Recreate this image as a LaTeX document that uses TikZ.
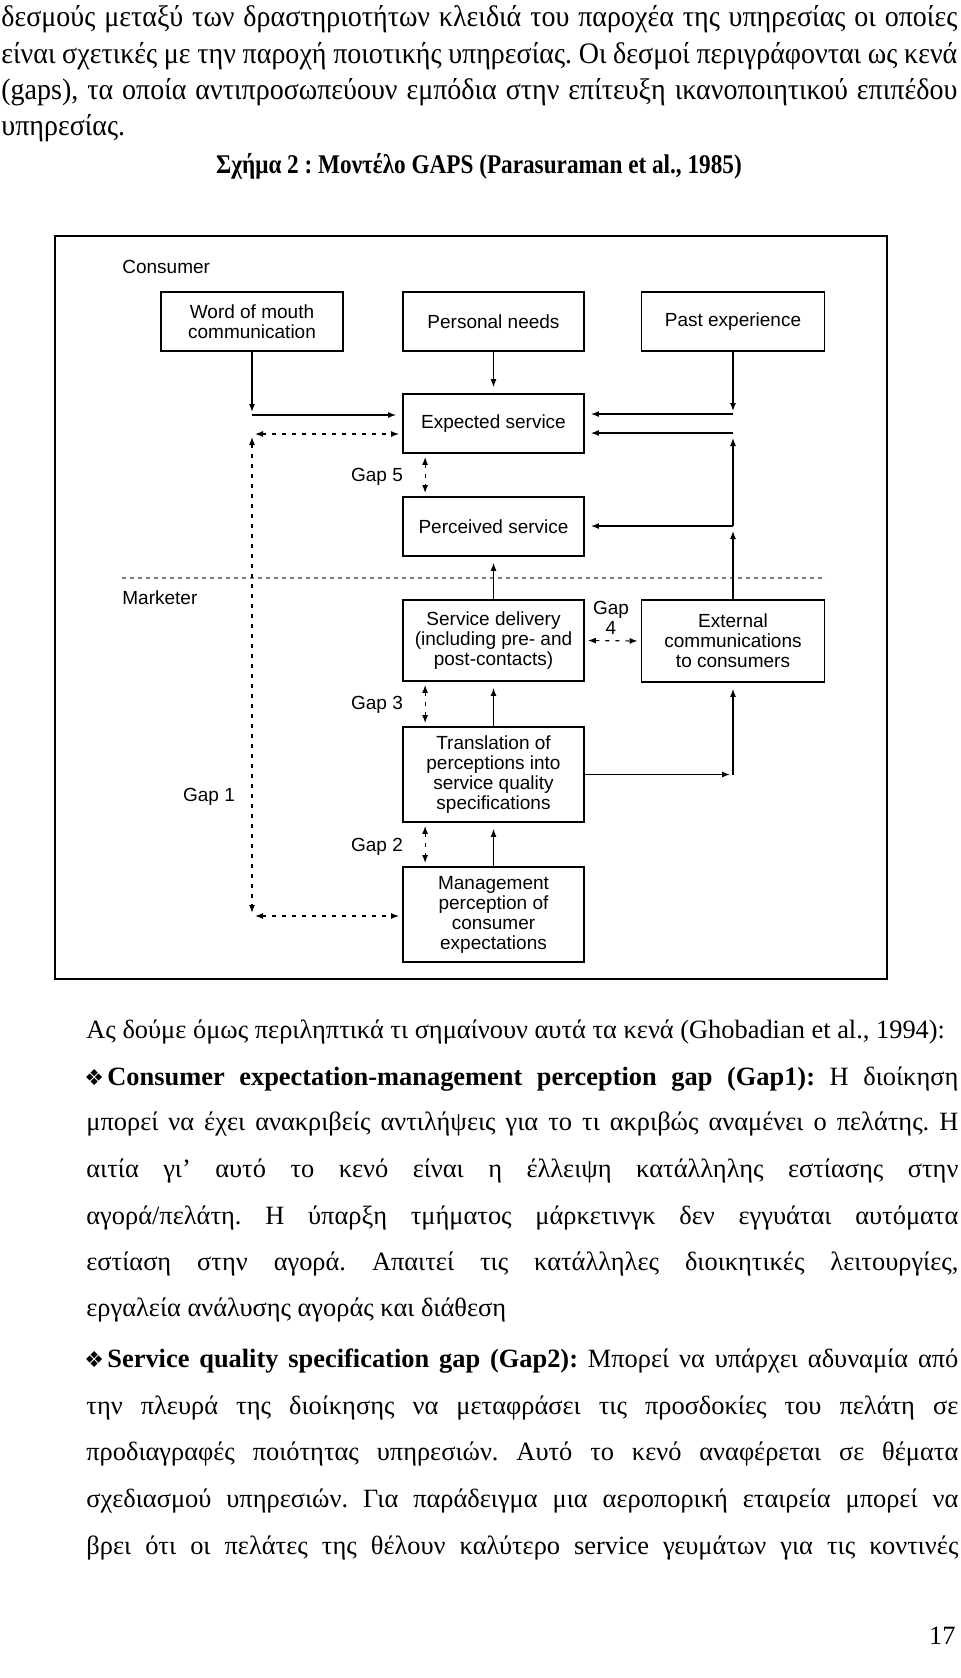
\documentclass[tikz,border=0pt]{standalone}
\usepackage{fontspec}
\setmainfont{Liberation Serif}
\newfontfamily\diagfont{Liberation Sans}
\newfontfamily\bulletfont{DejaVu Sans}
\newfontfamily\capfont[FakeStretch=0.86]{Liberation Serif Bold}
\newfontfamily\topfont[FakeStretch=0.94]{Liberation Serif}
\usetikzlibrary{arrows.meta,positioning}
\newcommand{\jline}[2]{\hbox to #1{#2}}
\frenchspacing

\begin{document}
\begin{tikzpicture}[x=0.5pt,y=-0.5pt,
    txt/.style={anchor=base west,inner sep=0pt,font=\fontsize{13.2}{16}\selectfont},
    toptxt/.style={anchor=base west,inner sep=0pt,font=\topfont\fontsize{14.9}{16}\selectfont},
    captxt/.style={anchor=base,inner sep=0pt,font=\capfont\fontsize{13.5}{16}\selectfont},
    bul/.style={anchor=base west,inner sep=0pt,font=\bulletfont\fontsize{11}{12}\selectfont},
    stage/.style={draw,line width=0.9pt,align=center,inner sep=1pt,minimum width=90.5pt,minimum height=29.5pt,font=\diagfont\fontsize{9.5}{10}\selectfont},
    lbl/.style={inner sep=0pt,align=center,font=\diagfont\fontsize{9.5}{10}\selectfont},
    arr/.style={line width=0.6pt,-{Latex[length=4pt,width=3pt]},shorten >=3pt},
    gaparr/.style={line width=0.6pt,dash pattern=on 2pt off 3pt,{Latex[length=4pt,width=3pt]}-{Latex[length=4pt,width=3pt]},shorten <=1.5pt,shorten >=1.5pt},
    divider/.style={line width=0.7pt,gray,dash pattern=on 2pt off 2pt}
  ]
  \useasboundingbox (0,0) rectangle (960,1678);
  % Text above the figure
  \node[toptxt] (p1) at (1,26) {\jline{478pt}{δεσμούς μεταξύ των δραστηριοτήτων κλειδιά του παροχέα της υπηρεσίας οι οποίες}};
  \node[toptxt] (p2) at (1,63) {\jline{478pt}{είναι σχετικές με την παροχή ποιοτικής υπηρεσίας. Οι δεσμοί περιγράφονται ως κενά}};
  \node[toptxt] (p3) at (1,99) {\jline{478pt}{(gaps), τα οποία αντιπροσωπεύουν εμπόδια στην επίτευξη ικανοποιητικού επιπέδου}};
  \node[toptxt] (p4) at (1,135) {υπηρεσίας.};
  \node[captxt] (cap) at (479,173) {Σχήμα 2 : Μοντέλο GAPS (Parasuraman et al., 1985)};
  % Frame
  \draw[line width=1pt] (55,236) rectangle (887,979);
  \node[lbl,anchor=west] (consumer) at (122,267) {Consumer};
  \node[lbl,anchor=west] (marketer) at (122,598) {Marketer};
  \draw[divider] (122,578) -- (826,578);
  % Consumer boxes
  \node[stage,minimum width=91pt] (wom) at (252,321.5) {Word of mouth\\communication};
  \node[stage] (needs) at (493.5,321.5) {Personal needs};
  \node[stage,minimum width=91.5pt] (past) at (733,321.5) {Past experience};
  \node[stage] (exp) at (493.5,423.5) {Expected service};
  \node[stage] (perc) at (493.5,526.5) {Perceived service};
  % Marketer boxes
  \node[stage,minimum height=40.5pt] (deliv) at (493.5,640.5) {Service delivery\\(including pre- and\\post-contacts)};
  \node[stage,minimum width=91.5pt,minimum height=41pt] (extc) at (733,641) {External\\communications\\to consumers};
  \node[stage,minimum height=47.5pt] (transl) at (493.5,774.5) {Translation of\\perceptions into\\service quality\\specifications};
  \node[stage,minimum height=47.5pt] (mgmt) at (493.5,914.5) {Management\\perception of\\consumer\\expectations};
  % Corners of the connectors
  \coordinate (womc) at (252,415);
  \coordinate (g1top) at (252,434);
  \coordinate (g1bot) at (252,916);
  \coordinate (pastc) at (733,414);
  \coordinate (extup) at (733,433);
  \coordinate (extmid) at (733,526);
  \coordinate (tcorner) at (transl.east -| extc);
  % Solid connectors
  \draw[arr,shorten >=1.5pt] (wom) -- (womc);
  \draw[arr] (womc) -- (womc -| exp.west);
  \draw[arr] (needs) -- (exp);
  \draw[arr,shorten >=1.5pt] (past) -- (pastc);
  \draw[arr] (pastc) -- (pastc -| exp.east);
  \draw[arr,shorten >=2.5pt] (extmid) -- (extup);
  \draw[arr] (extup) -- (extup -| exp.east);
  \draw[arr,shorten >=2.5pt] (extc) -- (extmid);
  \draw[arr] (extmid) -- (extmid -| perc.east);
  \draw[arr,shorten >=1.5pt] (transl.east) -- (tcorner);
  \draw[arr] (tcorner) -- (extc);
  \draw[arr] (deliv) -- (perc);
  \draw[arr] (transl) -- (deliv);
  \draw[arr] (mgmt) -- (transl);
  % Gaps
  \draw[gaparr] (g1top) -- (g1top -| exp.west);
  \draw[gaparr] (g1top) -- (g1bot);
  \draw[gaparr] (g1bot) -- (g1bot -| mgmt.west);
  \draw[gaparr] ([xshift=11.5pt]exp.south west) -- ([xshift=11.5pt]perc.north west);
  \draw[gaparr] ([xshift=11.5pt]deliv.south west) -- ([xshift=11.5pt]transl.north west);
  \draw[gaparr] ([xshift=11.5pt]transl.south west) -- ([xshift=11.5pt]mgmt.north west);
  \draw[gaparr] (deliv.east) -- (extc.west);
  \node[lbl] (gap1) at (209,797) {Gap 1};
  \node[lbl] (gap2) at (377,847) {Gap 2};
  \node[lbl] (gap3) at (377,705) {Gap 3};
  \node[lbl] (gap4) at (611,618) {Gap\\4};
  \node[lbl] (gap5) at (377,477) {Gap 5};
  % Text below the figure
  \node[txt] (q1) at (86,1038) {Ας δούμε όμως περιληπτικά τι σημαίνουν αυτά τα κενά (Ghobadian et al., 1994):};
  \node[bul] (b1) at (84,1085) {❖};
  \node[txt] (q2) at (107,1085) {\jline{425.5pt}{\textbf{Consumer expectation-management perception gap (Gap1):} Η διοίκηση}};
  \node[txt] (q3) at (86,1130) {\jline{436pt}{μπορεί να έχει ανακριβείς αντιλήψεις για το τι ακριβώς αναμένει ο πελάτης. Η}};
  \node[txt] (q4) at (86,1177) {\jline{436pt}{αιτία γι’ αυτό το κενό είναι η έλλειψη κατάλληλης εστίασης στην}};
  \node[txt] (q5) at (86,1224) {\jline{436pt}{αγορά/πελάτη. Η ύπαρξη τμήματος μάρκετινγκ δεν εγγυάται αυτόματα}};
  \node[txt] (q6) at (86,1270) {\jline{436pt}{εστίαση στην αγορά. Απαιτεί τις κατάλληλες διοικητικές λειτουργίες,}};
  \node[txt] (q7) at (86,1316) {εργαλεία ανάλυσης αγοράς και διάθεση};
  \node[bul] (b2) at (84,1367) {❖};
  \node[txt] (q8) at (107,1367) {\jline{425.5pt}{\textbf{Service quality specification gap (Gap2):} Μπορεί να υπάρχει αδυναμία από}};
  \node[txt] (q9) at (86,1414) {\jline{436pt}{την πλευρά της διοίκησης να μεταφράσει τις προσδοκίες του πελάτη σε}};
  \node[txt] (q10) at (86,1460) {\jline{436pt}{προδιαγραφές ποιότητας υπηρεσιών. Αυτό το κενό αναφέρεται σε θέματα}};
  \node[txt] (q11) at (86,1507) {\jline{436pt}{σχεδιασμού υπηρεσιών. Για παράδειγμα μια αεροπορική εταιρεία μπορεί να}};
  \node[txt] (q12) at (86,1554) {\jline{436pt}{βρει ότι οι πελάτες της θέλουν καλύτερο service γευμάτων για τις κοντινές}};
  \node[txt,anchor=base east] (pg) at (956,1644) {17};
\end{tikzpicture}
\end{document}
